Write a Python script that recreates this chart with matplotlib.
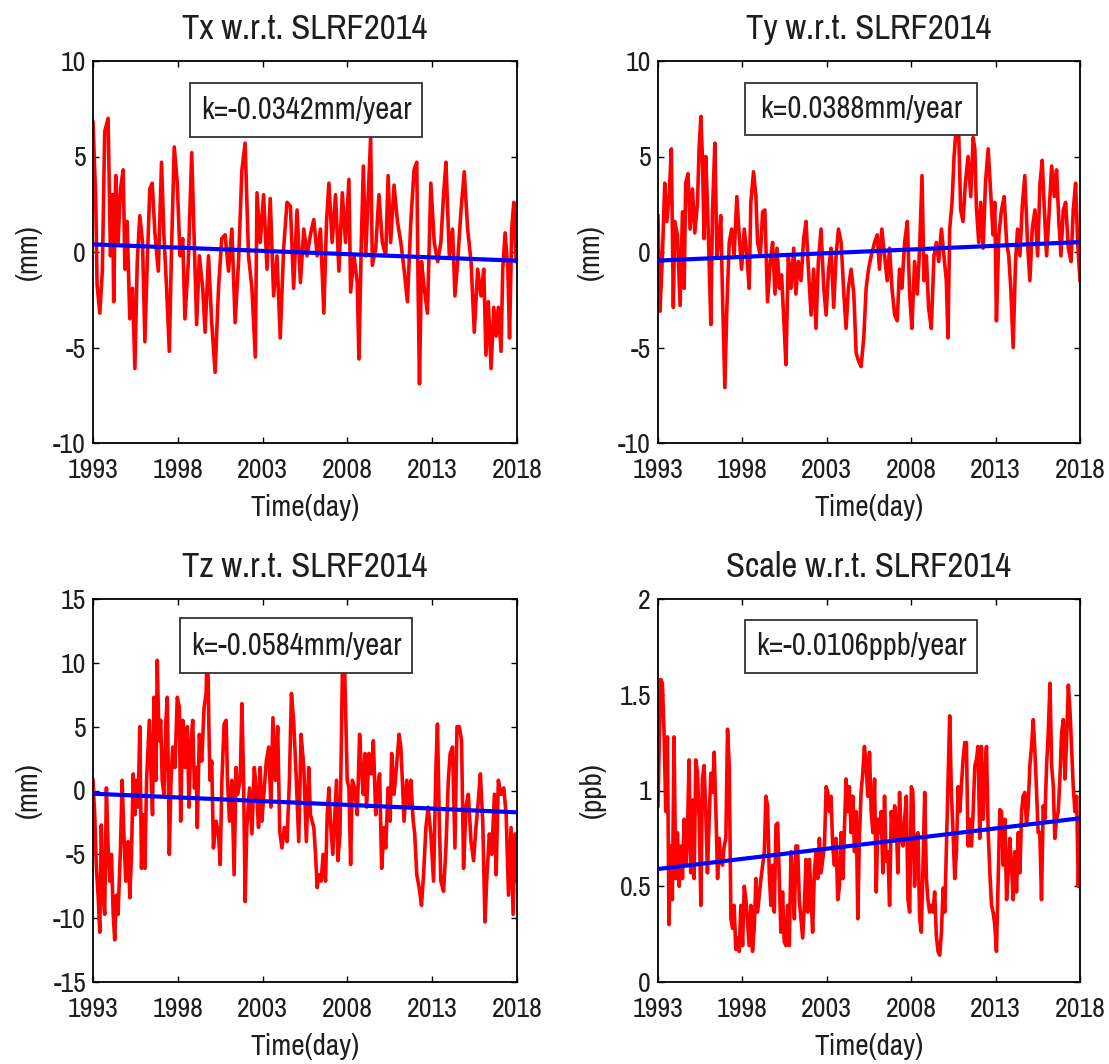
import matplotlib
matplotlib.use("Agg")
import matplotlib.pyplot as plt
import matplotlib.font_manager as fm
from matplotlib.patches import Rectangle

# prefer a narrow sans (the reference text is horizontally condensed Arial-like)
_names = sorted({f.name for f in fm.fontManager.ttflist})
_narrow = [n for n in _names if "Narrow" in n]
if _narrow:
    plt.rcParams['font.family'] = [_narrow[0], 'Liberation Sans', 'DejaVu Sans']
    SC = 1.0
else:
    plt.rcParams['font.family'] = ['Liberation Sans', 'DejaVu Sans']
    SC = 0.85

# ---------------- data ----------------
tx_t = [1993.00,1993.16,1993.24,1993.40,1993.55,1993.69,1993.89,1994.03,1994.15,1994.22,1994.34,1994.48,1994.62,1994.78,1994.88,
        1995.01,1995.17,1995.33,1995.47,1995.61,1995.76,1995.92,1996.06,1996.20,1996.35,1996.49,1996.65,1996.85,1997.04,1997.18,
        1997.34,1997.50,1997.64,1997.79,1997.97,1998.13,1998.29,1998.42,1998.62,1998.82,1998.96,1999.11,1999.27,1999.47,1999.61,
        1999.81,2000.00,2000.20,2000.40,2000.59,2000.79,2000.99,2001.19,2001.38,2001.58,2001.78,2001.97,2002.17,2002.37,2002.57,
        2002.67,2002.86,2003.06,2003.26,2003.45,2003.65,2003.85,2004.04,2004.24,2004.44,2004.64,2004.83,2005.03,2005.23,2005.43,
        2005.62,2005.82,
        2006.02,2006.22,2006.41,2006.61,2006.77,2006.91,2007.10,2007.30,2007.50,2007.70,2007.89,2008.09,2008.19,2008.39,2008.58,
        2008.68,2008.82,2008.94,2009.08,2009.23,2009.37,2009.47,2009.67,2009.86,2010.06,2010.26,2010.40,2010.55,2010.75,2010.95,
        2011.15,2011.34,2011.54,2011.74,2011.93,2012.09,2012.17,2012.25,2012.37,2012.53,2012.72,2012.92,2013.12,2013.32,2013.51,
        2013.67,2013.81,2014.01,2014.20,2014.34,2014.50,2014.70,2014.89,2015.09,2015.29,2015.48,2015.68,2015.88,2016.04,2016.17,
        2016.31,2016.47,2016.63,2016.77,2016.90,2017.06,2017.16,2017.30,2017.46,2017.56,2017.69,2017.81,2017.95]
tx_v = [6.8,2.8,-1.7,-3.2,-1.0,6.3,7.0,-0.2,3.0,-2.6,4.0,0.5,3.3,4.3,-0.9,
        1.6,-3.5,-1.9,-6.1,-0.5,1.9,0.5,-4.7,-0.5,3.3,3.6,1.0,-1.0,4.7,0.9,
        -1.9,-5.2,0.5,5.5,3.6,-0.2,0.7,-3.5,-0.5,5.2,0.9,-3.8,-0.2,-1.9,-4.2,
        -0.2,-3.7,-6.3,-1.9,0.7,0.9,-1.0,1.2,-3.7,-0.5,4.3,5.7,-0.2,-1.9,-5.5,
        3.1,0.5,3.0,-0.9,2.8,-2.3,-0.2,-4.5,0.2,2.6,2.4,-1.9,2.2,-1.6,1.2,
        -0.2,0.9,
        1.7,-0.2,1.2,-3.2,1.6,3.6,0.5,3.0,-1.0,3.1,0.5,3.8,-2.1,-0.2,-1.6,
        -5.6,0.5,4.5,-0.2,3.0,6.0,-0.7,0.2,3.0,0.5,-0.2,4.0,0.5,3.5,1.6,
        0.5,-0.9,-2.6,1.6,4.3,4.7,-1.9,-6.9,-0.5,-1.9,-3.2,3.6,0.5,-0.5,0.5,
        3.0,4.7,-0.2,1.2,-2.3,-0.5,2.2,4.2,1.2,-0.5,-4.2,-0.9,-2.3,-0.9,-5.4,
        -2.6,-6.1,-2.9,-4.4,-2.9,-5.2,-0.9,1.0,-0.9,-4.5,1.2,2.6,-0.5]

ty_t = [1993.00,1993.12,1993.26,1993.40,1993.52,1993.66,1993.79,1993.91,1993.99,1994.15,
        1994.31,1994.45,1994.55,1994.64,1994.78,1994.90,1995.04,1995.18,1995.34,1995.44,
        1995.54,1995.63,1995.73,1995.83,1995.93,1996.03,1996.13,1996.23,1996.37,1996.49,
        1996.62,1996.72,1996.82,1996.96,1997.08,1997.22,1997.36,1997.51,1997.67,1997.81,
        1997.95,1998.11,1998.27,1998.40,1998.50,1998.66,1998.80,1998.90,1999.06,1999.20,
        1999.33,1999.49,1999.65,1999.79,1999.93,2000.05,2000.19,2000.32,2000.44,2000.58,
        2000.72,2000.88,2001.04,2001.17,2001.31,2001.47,2001.63,2001.77,2001.91,2002.07,
        2002.22,2002.36,2002.50,2002.66,2002.82,2002.96,2003.10,2003.25,2003.41,2003.55,
        2003.69,2003.85,2004.01,2004.14,2004.28,2004.44,2004.60,2004.74,2004.88,2005.03,
        2005.19,2005.33,2005.47,2005.63,
        2005.83,2005.99,2006.12,2006.26,2006.42,2006.58,2006.72,2006.86,2007.02,2007.17,
        2007.31,2007.45,2007.61,2007.77,2007.91,2008.04,2008.20,2008.36,2008.50,2008.64,
        2008.76,2008.90,2009.03,2009.19,2009.35,2009.49,2009.63,2009.79,2009.94,2010.08,
        2010.18,2010.28,2010.42,2010.54,2010.68,2010.82,2010.93,2011.07,2011.21,2011.37,
        2011.53,2011.67,2011.77,2011.86,2012.00,2012.12,2012.26,2012.40,2012.56,2012.72,
        2012.85,2012.95,2013.05,2013.19,2013.35,2013.51,2013.65,2013.78,2013.90,2014.04,
        2014.18,2014.30,2014.44,2014.58,2014.73,2014.89,2015.03,2015.17,2015.33,2015.49,
        2015.63,2015.76,2015.92,2016.02,2016.16,2016.32,2016.48,2016.61,2016.75,2016.87,
        2017.01,2017.15,2017.31,2017.47,2017.60,2017.74,2017.86,2018.00]
ty_v = [1.9,-3.1,-0.2,3.6,1.6,2.9,5.4,-2.9,1.6,0.9,
        -2.8,2.1,-1.9,3.6,4.1,1.2,3.3,1.0,2.6,5.5,
        7.1,5.0,0.7,5.0,2.4,-0.5,-3.8,2.2,5.7,-0.2,
        0.7,1.9,-2.2,-7.1,-2.9,0.5,1.2,-0.2,2.9,0.9,
        -0.9,1.2,-0.2,-1.9,2.6,4.2,2.9,0.5,-0.2,2.1,
        2.2,-2.6,-0.5,0.5,-2.2,0.2,-1.9,-1.2,-3.3,-5.9,
        -0.2,-1.9,0.2,-2.2,-0.5,-1.5,0.7,1.6,-0.9,-3.3,
        -0.9,-4.0,-0.5,1.2,-1.9,-3.3,-1.0,0.2,-2.9,-0.2,
        1.2,0.5,-2.2,-4.0,-1.9,-0.9,-2.2,-5.3,-5.7,-6.0,
        -4.5,-1.9,-0.9,-0.2,
        0.5,0.9,-0.9,1.2,-0.2,-1.5,0.2,-1.9,-3.3,-3.6,
        -0.9,-1.9,0.5,1.6,-2.2,-4.0,-0.5,-2.2,0.2,4.0,
        -1.5,-0.2,-2.9,-4.0,-0.2,0.5,-0.5,1.2,-0.2,-1.5,
        -4.5,1.2,2.6,5.0,6.7,6.0,2.2,1.6,3.6,5.0,
        2.9,6.0,5.4,2.4,0.5,2.6,0.2,3.6,5.4,2.9,
        0.9,2.6,-3.6,0.9,2.2,2.9,0.5,-0.2,-1.9,-5.0,
        -0.5,1.2,-0.2,2.4,4.0,0.5,-1.5,1.2,2.2,-0.2,
        3.6,4.8,1.6,-0.2,1.9,4.5,2.9,4.3,1.6,-0.2,
        2.2,2.6,0.2,-0.5,2.2,3.6,0.5,-1.5]

tz_t = [1993.00,1993.10,1993.20,1993.30,1993.40,1993.49,1993.59,1993.69,1993.79,1993.89,
        1993.99,1994.09,1994.19,1994.28,1994.38,1994.48,1994.62,1994.72,1994.82,1994.93,
        1995.07,1995.17,1995.27,1995.37,1995.47,1995.57,1995.66,1995.76,1995.86,1995.96,
        1996.06,1996.16,1996.32,1996.41,1996.51,1996.59,1996.71,1996.79,1996.89,1996.99,
        1997.08,1997.18,1997.30,1997.38,1997.50,1997.60,1997.70,1997.83,1997.97,1998.09,
        1998.17,1998.29,1998.43,1998.56,1998.66,1998.76,1998.88,1998.98,1999.08,1999.15,
        1999.27,1999.41,1999.55,1999.67,1999.75,1999.83,1999.90,2000.00,2000.10,2000.26,
        2000.40,2000.50,2000.60,2000.73,2000.85,2000.93,2001.05,2001.19,2001.32,2001.44,
        2001.52,2001.68,2001.78,2001.88,2001.97,2002.07,2002.23,2002.37,2002.51,2002.63,
        2002.76,2002.86,2002.96,2003.10,2003.22,2003.36,2003.49,2003.61,2003.75,2003.89,
        2004.01,2004.14,2004.28,2004.44,2004.58,2004.70,2004.83,2004.99,2005.13,2005.27,
        2005.43,2005.58,2005.72,2005.82,
        2006.02,2006.12,2006.22,2006.31,2006.45,2006.57,2006.71,2006.81,2006.91,2007.00,
        2007.14,2007.26,2007.36,2007.44,2007.56,2007.64,2007.73,2007.79,2007.89,2007.99,
        2008.09,2008.19,2008.29,2008.42,2008.58,2008.72,2008.82,2008.94,2009.04,2009.13,
        2009.27,2009.41,2009.53,2009.67,2009.77,2009.90,2010.02,2010.16,2010.26,2010.40,
        2010.52,2010.61,2010.75,2010.89,2011.05,2011.15,2011.24,2011.34,2011.50,2011.64,
        2011.74,2011.88,2011.97,2012.09,2012.23,2012.37,2012.49,2012.63,2012.76,2012.92,
        2013.08,2013.22,2013.31,2013.41,2013.51,2013.67,2013.81,2013.95,2014.06,2014.20,
        2014.34,2014.46,2014.60,2014.73,2014.85,2014.99,2015.13,2015.29,2015.44,2015.58,
        2015.72,2015.84,2015.98,2016.11,2016.23,2016.37,2016.51,2016.67,2016.77,2016.90,
        2017.06,2017.22,2017.36,2017.50,2017.65,2017.77,2017.89,2018.00]
tz_v = [0.8,-1.9,-6.1,-8.2,-11.1,-2.7,-8.2,-9.7,0.2,-4.5,
        -7.1,-5.0,-9.7,-11.7,-8.2,-9.7,-4.5,0.8,-3.4,-7.1,
        -4.0,-8.4,-5.0,1.3,-1.9,0.8,-1.3,5.0,-6.1,-1.9,
        -6.1,0.8,5.5,1.8,-1.9,7.3,0.8,10.2,3.9,5.5,
        0.8,-0.3,5.5,7.3,-5.0,0.8,3.4,1.8,7.3,6.5,
        -2.4,5.5,1.8,5.0,-1.3,3.4,5.5,0.2,1.8,-2.9,
        4.4,2.3,6.5,7.6,12.3,5.2,0.8,2.3,-4.5,-2.4,
        -3.4,-5.8,0.8,5.2,5.5,0.8,-2.4,0.8,-6.6,1.8,
        -0.3,0.8,6.8,0.8,-8.7,-2.9,0.2,-3.4,1.8,0.2,
        -2.9,1.8,-2.4,0.2,2.3,3.4,-1.3,5.7,0.8,5.0,
        -3.2,-4.5,-2.9,-4.0,0.8,7.6,5.5,0.8,-4.0,4.4,
        1.8,-4.0,1.8,-1.9,
        -2.9,-5.0,-7.6,-6.6,-7.1,-5.0,-7.1,-1.9,0.2,-2.4,
        -5.0,-1.9,0.8,-5.5,-3.4,3.4,11.8,12.3,6.5,0.8,
        0.2,-5.8,0.8,0.2,-1.9,4.4,1.8,-0.3,2.9,-1.3,
        2.9,1.3,3.9,-1.9,0.2,1.3,-6.1,-2.9,-4.5,0.2,
        -2.4,2.9,-0.3,1.8,4.4,3.4,0.8,-2.4,0.8,-1.3,
        0.8,-2.4,-3.4,-6.6,-7.6,-9.0,-6.6,-2.9,-1.3,-3.4,
        -7.1,1.8,5.2,-1.9,-7.1,-7.9,-4.5,0.8,2.9,3.4,
        -4.5,5.0,5.0,3.9,-6.1,-1.3,-0.3,-4.0,-5.5,-2.9,
        -0.8,1.3,-2.4,-10.3,-6.6,-3.4,-5.0,-0.3,-6.6,0.8,
        -0.3,0.2,-1.9,-8.2,-2.9,-9.7,-3.4,-7.1]

sc_t = [1993.00,1993.08,1993.16,1993.26,1993.36,1993.46,1993.56,1993.65,1993.75,1993.85,
        1993.95,1994.05,1994.15,1994.25,1994.35,1994.45,1994.55,1994.65,1994.74,1994.84,
        1994.94,1995.04,1995.14,1995.24,1995.34,1995.44,1995.54,1995.63,1995.73,1995.83,
        1995.93,1996.03,1996.13,1996.23,1996.33,1996.43,1996.53,1996.62,1996.72,1996.82,
        1996.92,1997.02,1997.12,1997.22,1997.32,1997.42,1997.51,1997.61,1997.71,1997.81,
        1997.91,1998.01,1998.11,1998.21,1998.31,1998.40,1998.50,1998.60,1998.70,1998.80,
        1998.90,1999.10,1999.30,1999.39,1999.49,1999.59,1999.69,1999.79,1999.89,1999.99,
        2000.09,2000.19,2000.28,2000.38,2000.48,2000.58,2000.68,2000.78,2000.88,2000.98,
        2001.08,2001.17,2001.27,2001.37,2001.47,2001.57,2001.67,2001.77,2001.87,2001.97,
        2002.06,2002.16,2002.26,2002.36,2002.46,2002.56,2002.66,2002.76,2002.86,2002.96,
        2003.06,2003.15,2003.25,2003.35,2003.45,2003.55,2003.65,2003.75,2003.85,2003.95,
        2004.04,2004.14,2004.24,2004.34,2004.44,2004.54,2004.64,2004.74,2004.84,2004.93,
        2005.03,2005.13,2005.23,2005.33,2005.43,2005.53,2005.63,
        2005.73,2005.83,2005.93,2006.03,2006.13,2006.22,2006.32,2006.42,2006.52,2006.62,
        2006.72,2006.82,2006.92,2007.02,2007.12,2007.21,2007.31,2007.41,2007.51,2007.61,
        2007.71,2007.81,2007.91,2008.01,2008.10,2008.20,2008.30,2008.40,2008.50,2008.60,
        2008.70,2008.80,2008.90,2008.99,2009.09,2009.19,2009.29,2009.39,2009.49,2009.59,
        2009.69,2009.79,2009.89,2009.99,2010.08,2010.18,2010.28,2010.38,2010.48,2010.58,
        2010.68,2010.78,2010.88,2010.97,2011.07,2011.17,2011.27,2011.37,2011.47,2011.57,
        2011.67,2011.77,2011.86,2011.96,2012.06,2012.16,2012.26,2012.36,2012.46,2012.56,
        2012.66,2012.76,2012.85,2012.95,2013.05,2013.15,2013.25,2013.35,2013.45,2013.55,
        2013.65,2013.74,2013.84,2013.94,2014.04,2014.14,2014.24,2014.34,2014.44,2014.54,
        2014.63,2014.73,2014.83,2014.93,2015.03,2015.13,2015.23,2015.33,2015.43,2015.52,
        2015.62,2015.72,2015.82,2015.92,2016.02,2016.12,2016.22,2016.32,2016.42,2016.51,
        2016.61,2016.71,2016.81,2016.91,2017.01,2017.11,2017.21,2017.31,2017.41,2017.50,
        2017.60,2017.70,2017.80,2017.90,2018.00]
sc_v = [0.92,1.27,1.58,1.56,1.30,0.89,1.28,0.30,0.71,0.43,
        1.28,0.54,0.78,0.50,0.71,0.54,0.85,0.61,0.75,1.16,
        0.57,0.95,0.54,1.16,1.09,0.85,0.40,1.06,1.13,0.89,
        0.57,0.85,1.09,0.99,1.20,0.89,0.54,0.75,0.64,0.61,
        0.71,0.75,1.32,1.13,0.33,0.28,0.40,0.17,0.23,0.16,
        0.40,0.19,0.50,0.43,0.30,0.19,0.40,0.16,0.28,0.54,
        0.365,0.54,0.68,0.97,0.92,0.57,0.40,0.61,0.365,0.82,
        0.83,0.54,0.26,0.47,0.21,0.19,0.40,0.19,0.68,0.54,
        0.33,0.71,0.71,0.43,0.33,0.23,0.40,0.64,0.365,0.64,
        0.47,0.26,0.57,0.68,0.54,0.75,0.57,0.64,0.71,1.02,
        0.99,0.89,0.97,0.71,0.61,0.75,0.43,0.50,0.78,0.54,
        0.78,1.06,0.89,1.02,0.78,0.97,0.68,0.89,0.33,0.75,
        0.99,1.09,1.23,1.13,0.97,1.20,0.89,
        0.78,1.06,0.47,0.85,0.78,0.89,0.57,0.97,0.63,0.68,
        0.40,0.89,0.75,0.92,0.82,0.57,0.99,0.75,0.71,0.85,
        0.97,0.43,0.365,1.02,0.99,0.50,0.75,0.78,0.33,0.26,
        0.61,0.99,0.54,0.43,0.365,0.40,0.365,0.47,0.24,0.16,
        0.14,0.26,0.49,0.365,0.68,1.02,1.39,0.99,0.78,0.54,
        0.68,1.02,0.89,1.02,1.16,1.25,1.25,0.71,0.85,0.71,
        0.89,1.13,1.16,1.23,0.75,1.23,0.85,1.09,1.23,0.78,
        0.57,0.40,0.365,0.30,0.16,0.54,0.90,0.89,0.61,0.85,
        0.43,0.57,0.75,0.61,0.43,0.68,0.47,0.78,0.57,0.89,
        0.97,0.99,0.82,0.92,1.13,1.23,1.37,1.20,0.99,0.78,
        0.78,0.43,0.92,0.85,1.13,1.30,1.56,1.13,1.02,0.75,
        0.85,0.89,1.06,1.30,1.37,1.06,1.27,1.55,1.41,1.23,
        1.02,0.89,0.97,0.50,0.85]

# linear trends: value at 1993 and slope per year
trend_start = [0.40, -0.45, -0.25, 0.59]
trend_slope = [-0.0342, 0.0388, -0.0584, 0.0106]

titles = ["Tx w.r.t. SLRF2014", "Ty w.r.t. SLRF2014", "Tz w.r.t. SLRF2014", "Scale w.r.t. SLRF2014"]
k_labels = ["k=-0.0342mm/year", "k=0.0388mm/year", "k=-0.0584mm/year", "k=-0.0106ppb/year"]
y_labels = ["(mm)", "(mm)", "(mm)", "(ppb)"]
y_limits = [(-10, 10), (-10, 10), (-15, 15), (0, 2)]
y_ticks = [[-10, -5, 0, 5, 10], [-10, -5, 0, 5, 10], [-15, -10, -5, 0, 5, 10, 15], [0, 0.5, 1, 1.5, 2]]
y_ticklabels = [["-10", "-5", "0", "5", "10"], ["-10", "-5", "0", "5", "10"],
                ["-15", "-10", "-5", "0", "5", "10", "15"], ["0", "0.5", "1", "1.5", "2"]]
x_ticks = [1993, 1998, 2003, 2008, 2013, 2018]
x_label = "Time(day)"

series_t = [tx_t, ty_t, tz_t, sc_t]
series_v = [tx_v, ty_v, tz_v, sc_v]

# ---------------- layout ----------------
W, H = 1109, 1064
fig = plt.figure(figsize=(W / 100, H / 100), dpi=100)
fig.patch.set_facecolor("white")

ax_px = [(93, 61, 517, 443), (658, 61, 1080, 443), (93, 599, 517, 982), (658, 599, 1080, 982)]
box_px = [(190, 83, 422, 137), (745, 83, 977, 135), (180, 618, 412, 673), (745, 620, 977, 673)]
ylab_x = [42, 604, 42, 606]

txt_col = "#1e1e1e"

for i in range(4):
    l, t, r, b = ax_px[i]
    ax = fig.add_axes([l / W, 1 - b / H, (r - l) / W, (b - t) / H])
    ax.plot(series_t[i], series_v[i], color="#ff0000", lw=2.6, zorder=2)
    tr = [trend_start[i] + trend_slope[i] * (tt - x_ticks[0]) for tt in (x_ticks[0], x_ticks[-1])]
    ax.plot([x_ticks[0], x_ticks[-1]], tr, color="#0000ff", lw=3.0, zorder=3)

    ax.set_xlim(x_ticks[0], x_ticks[-1])
    ax.set_ylim(*y_limits[i])
    ax.set_xticks(x_ticks)
    ax.set_xticklabels([str(x) for x in x_ticks])
    ax.set_yticks(y_ticks[i])
    ax.set_yticklabels(y_ticklabels[i])
    ax.tick_params(direction="in", length=4, width=1, top=True, right=True,
                   labelsize=20 * SC, colors="black", labelcolor=txt_col)
    ax.tick_params(axis="x", pad=11)
    ax.tick_params(axis="y", pad=5)
    for s in ax.spines.values():
        s.set_linewidth(1.3)
        s.set_color("black")

    ax.set_title(titles[i], fontsize=25 * SC, color=txt_col, pad=16)
    ax.set_xlabel(x_label, fontsize=21 * SC, color=txt_col, labelpad=8)
    ax.set_ylabel(y_labels[i], fontsize=21 * SC, color=txt_col)
    ax.yaxis.set_label_coords((ylab_x[i] - l) / (r - l), 0.5)

    bl, bt, br, bb = box_px[i]
    x0 = (bl - l) / (r - l); x1 = (br - l) / (r - l)
    y0 = 1 - (bb - t) / (b - t); y1 = 1 - (bt - t) / (b - t)
    ax.add_patch(Rectangle((x0, y0), x1 - x0, y1 - y0, transform=ax.transAxes,
                           facecolor="white", edgecolor="#333333", lw=1.3, zorder=5))
    ax.text((x0 + x1) / 2, (y0 + y1) / 2, k_labels[i], transform=ax.transAxes,
            ha="center", va="center", fontsize=22 * SC, color=txt_col, zorder=6)

fig.savefig("out.png", dpi=100, facecolor="white")
